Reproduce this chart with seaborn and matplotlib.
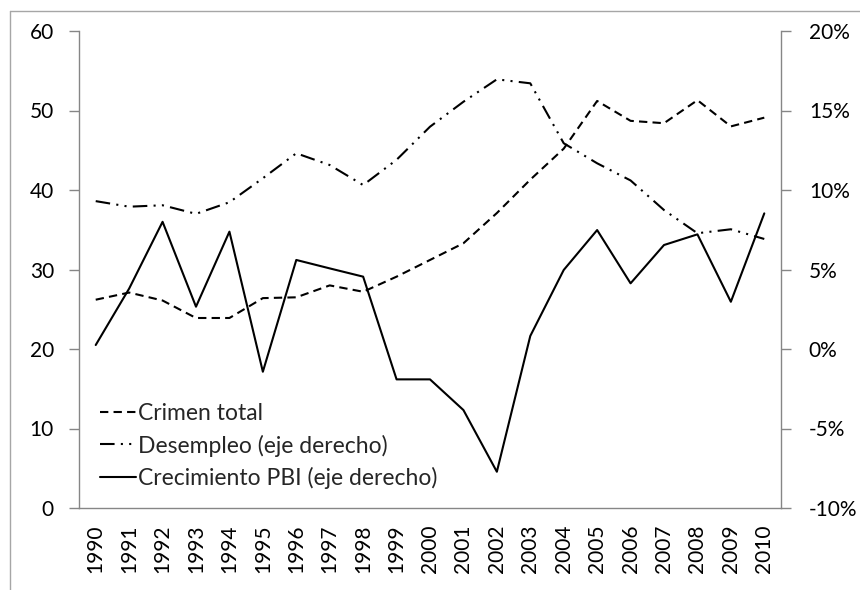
import pandas as pd
import matplotlib.pyplot as plt
import matplotlib.ticker as mticker
from matplotlib.lines import Line2D
import seaborn as sns

# datos
years = [str(y) for y in range(1990, 2011)]
crimen_total = [26.2, 27.1, 26.1, 23.9, 23.9, 26.4, 26.5, 28.0, 27.2, 29.1, 31.2,
                33.3, 37.1, 41.3, 45.2, 51.2, 48.7, 48.4, 51.3, 48.0, 49.1]
desempleo = [9.3, 8.95, 9.04, 8.5, 9.23, 10.74, 12.31, 11.57, 10.31, 11.9, 13.98,
             15.55, 16.96, 16.71, 12.94, 11.68, 10.6, 8.74, 7.28, 7.53, 6.92]
crecimiento_pbi = [0.25, 3.8, 8.0, 2.66, 7.38, -1.43, 5.6, 5.07, 4.55, -1.91, -1.91,
                   -3.84, -7.72, 0.82, 4.97, 7.48, 4.13, 6.54, 7.21, 2.97, 8.53]

labels = ["Crimen total", "Desempleo (eje derecho)", "Crecimiento PBI (eje derecho)"]

df = pd.DataFrame({"year": years, "crimen": crimen_total,
                   "desempleo": desempleo, "pbi": crecimiento_pbi})

sns.set_theme(style="white")
plt.rcParams['font.family'] = ['Lato', 'DejaVu Sans']
plt.rcParams['axes.unicode_minus'] = False

AXIS_GREY = "#868686"
TICK_SIZE = 15
LEGEND_SIZE = 16.5

fig = plt.figure(figsize=(8.6, 5.9), dpi=100)
ax = fig.add_axes([79 / 860, 82 / 590, 702 / 860, 477 / 590])
ax2 = ax.twinx()

# serie eje izquierdo
sns.lineplot(data=df, x="year", y="crimen", ax=ax, color="black", linewidth=1.5,
             sort=False, label=labels[0], legend=False)
ax.lines[0].set_dashes((4, 2.5))

# series eje derecho
sns.lineplot(data=df, x="year", y="desempleo", ax=ax2, color="black", linewidth=1.5,
             sort=False, label=labels[1], legend=False)
ax2.lines[0].set_dashes((7, 3, 1, 3, 1, 3))
sns.lineplot(data=df, x="year", y="pbi", ax=ax2, color="black", linewidth=1.5,
             sort=False, label=labels[2], legend=False)

n = len(years)
for a in (ax, ax2):
    a.set_xlim(-0.5, n - 0.5)
    a.set_xlabel("")
    a.set_ylabel("")
    a.grid(False)
    for side in ("top", "left", "right", "bottom"):
        a.spines[side].set_visible(False)

ax.set_ylim(0, 60)
ax.set_yticks(range(0, 61, 10))
ax2.set_ylim(-10, 20)
ax2.set_yticks(range(-10, 21, 5))
ax2.yaxis.set_major_formatter(mticker.PercentFormatter(decimals=0))

ax.spines["left"].set_visible(True)
ax.spines["bottom"].set_visible(True)
ax2.spines["right"].set_visible(True)
for sp in (ax.spines["left"], ax.spines["bottom"], ax2.spines["right"]):
    sp.set_color(AXIS_GREY)
    sp.set_linewidth(1.0)

# marcas entre categorias, etiquetas centradas
ax.set_xticks(range(n))
ax.set_xticklabels(years, rotation=90, fontsize=TICK_SIZE)
ax.set_xticks([i - 0.5 for i in range(n + 1)], minor=True)
ax.tick_params(axis="x", which="major", length=0, pad=12)
ax.tick_params(axis="x", which="minor", length=6, color=AXIS_GREY, width=1, direction="out")
ax.tick_params(axis="y", length=7, color=AXIS_GREY, width=1, direction="out",
               labelsize=TICK_SIZE, pad=11, left=True)
ax2.tick_params(axis="y", length=7, color=AXIS_GREY, width=1, direction="out",
                labelsize=TICK_SIZE, pad=13, right=True)
for t in ax.get_yticklabels() + ax2.get_yticklabels() + ax.get_xticklabels():
    t.set_color("black")

handles = [ax.lines[0], ax2.lines[0], ax2.lines[1]]
ax2.legend(handles, labels, loc="lower left", bbox_to_anchor=(0.03, 0.04),
           frameon=False, fontsize=LEGEND_SIZE, handlelength=1.55, handletextpad=0.1,
           labelspacing=0.45, borderaxespad=0, borderpad=0)

# marco del area del grafico (recortado)
fig.add_artist(Line2D([9.5 / 860, 1.0], [1 - 10.5 / 590] * 2, color="#a6a6a6",
                      linewidth=1.0, transform=fig.transFigure))
fig.add_artist(Line2D([9.5 / 860] * 2, [0.0, 1 - 10.5 / 590], color="#a6a6a6",
                      linewidth=1.0, transform=fig.transFigure))

fig.savefig("out.png", dpi=100, facecolor="white")
